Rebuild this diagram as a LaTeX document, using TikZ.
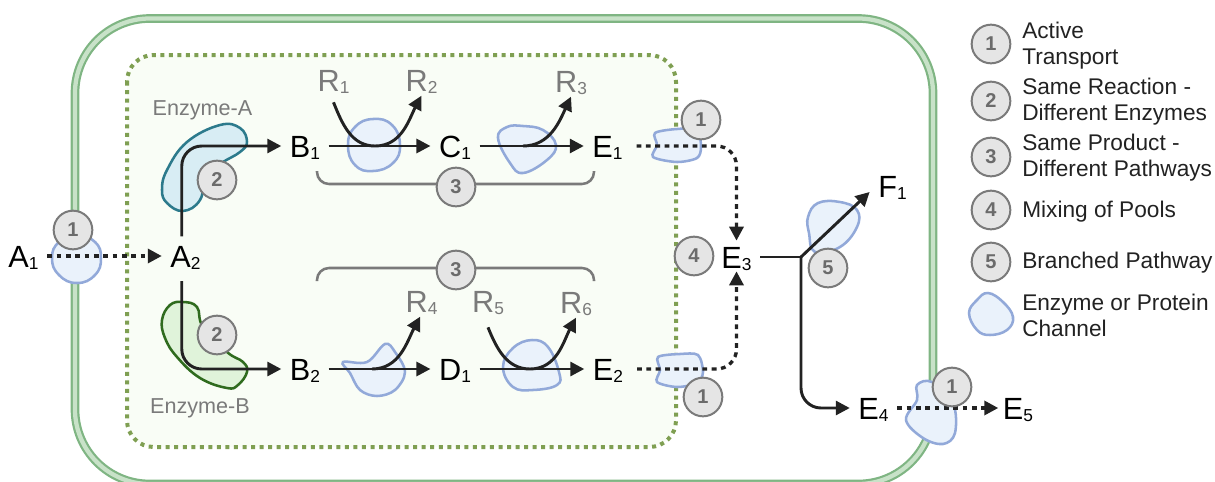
\documentclass[tikz,border=0pt]{standalone}
\usepackage{fontspec}
\setmainfont{Liberation Sans}
\usetikzlibrary{arrows.meta}

\definecolor{wallgreen}{HTML}{7FB583}
\definecolor{walllight}{HTML}{C8E2C8}
\definecolor{dotgreen}{HTML}{7F9F52}
\definecolor{cellfill}{HTML}{F9FDF6}
\definecolor{protfill}{HTML}{EAF2FB}
\definecolor{protline}{HTML}{92A9D9}
\definecolor{enzaline}{HTML}{2C7A8C}
\definecolor{enzafill}{HTML}{D8EDF4}
\definecolor{enzbline}{HTML}{2F6B1E}
\definecolor{enzbfill}{HTML}{E0F3DA}
\definecolor{ink}{HTML}{222222}
\definecolor{fade}{HTML}{7A7A7A}

\newcommand{\subnum}[1]{\raisebox{-2.2pt}{\fontsize{13pt}{13pt}\selectfont #1}}

\tikzset{
    prot/.style={draw=protline, fill=protfill, line width=1.9pt},
    species/.style={font=\fontsize{23pt}{23pt}\selectfont, text=black, inner sep=0pt, outer sep=6.5pt, text height=16.5pt, text depth=0pt},
    cofactor/.style={species, text=fade, outer sep=3.5pt},
    flow/.style={draw=ink, line width=2.2pt, -{Triangle[length=10.5pt,width=10.5pt]}},
    leak/.style={flow, line width=2.5pt, dash pattern=on 3.6pt off 3.4pt},
    brace/.style={draw=fade, line width=1.9pt, rounded corners=9pt},
    badge/.style={circle, draw=fade, fill=black!10, line width=1.5pt, minimum size=29pt, inner sep=0pt, text=black!58, font=\fontsize{15pt}{15pt}\selectfont\bfseries},
    legtext/.style={anchor=west, align=left, inner sep=0pt, font=\fontsize{17pt}{19.5pt}\selectfont, text=ink},
    enztext/.style={inner sep=0pt, text=fade, font=\fontsize{16.2pt}{16.2pt}\selectfont}
}

\begin{document}
\begin{tikzpicture}[x=0.75pt, y=-0.75pt]
    \useasboundingbox (0, 0) rectangle (1215, 482);

    \draw[wallgreen, line width=6.5pt, rounded corners=56pt] (75, 18.5) rectangle (933, 484);
    \draw[walllight, line width=3.2pt, rounded corners=56pt] (75, 18.5) rectangle (933, 484);
    \draw[dotgreen, fill=cellfill, line width=3pt, dash pattern=on 3pt off 3.4pt, rounded corners=20pt] (127, 55) rectangle (676, 447);

    %%%%%%%%%%%%%%%%%%%%%%%%%%%%%%%%%%%%%%%%%%%%%%%%%%%%%%

    \draw[draw=enzaline, fill=enzafill, line width=1.9pt] plot[smooth cycle, tension=0.7] coordinates {(162,190) (167,170) (187,142) (220,125) (240,128) (247,142) (240,152) (223,162) (207,173) (200,200) (183,211) (167,203)};
    \draw[draw=enzbline, fill=enzbfill, line width=1.9pt] plot[smooth cycle, tension=0.7] coordinates {(162,320) (170,305) (183,302) (197,307) (203,327) (227,352) (243,362) (247,372) (238,385) (227,388) (200,378) (177,357) (165,338)};

    \draw[prot] plot[smooth cycle, tension=0.8] coordinates {(348,145) (355,127) (373,119) (392,125) (400,145) (393,163) (373,171) (355,165)};
    \draw[prot] plot[smooth cycle, tension=0.7] coordinates {(498,138) (507,127) (523,126) (543,130) (556,145) (547,160) (523,173) (510,163)};
    \draw[prot] plot[smooth cycle, tension=0.5] coordinates {(655,133) (677,129) (697,130) (701,147) (697,158) (677,162) (653,157) (657,145)};
    \draw[prot] plot[smooth cycle, tension=0.5] coordinates {(658,357) (680,354) (698,355) (703,372) (697,383) (677,387) (657,382) (660,370)};
    \draw[prot] plot[smooth cycle, tension=0.7] coordinates {(503,367) (513,348) (532,340) (548,347) (559,372) (557,385) (533,390) (513,387)};
    \draw[prot] plot[smooth cycle, tension=0.6] coordinates {(343,362) (367,362) (385,344) (395,352) (405,372) (395,390) (377,396) (360,390) (350,373)};
    \draw[prot] plot[smooth cycle, tension=0.8] coordinates {(52,258) (59,242) (77,235) (95,242) (101,258) (95,275) (77,283) (59,275)};
    \draw[prot] plot[smooth cycle, tension=0.7] coordinates {(808,217) (818,203) (840,202) (857,210) (857,227) (840,247) (815,252) (809,233)};
    \draw[prot] plot[smooth cycle, tension=0.6] coordinates {(917,385) (932,382) (953,403) (955,433) (943,444) (923,438) (906,420) (917,400)};
    \draw[prot] plot[smooth cycle, tension=0.7] coordinates {(969,313) (977,300) (988,293) (1003,302) (1013,317) (1007,330) (990,335) (977,330)};

    %%%%%%%%%%%%%%%%%%%%%%%%%%%%%%%%%%%%%%%%%%%%%%%%%%%%%%

    \node[species](a1) at (23.5, 256) {A\subnum{1}};
    \node[species](a2) at (185.5, 256) {A\subnum{2}};
    \node[species](b1) at (305, 146) {B\subnum{1}};
    \node[species](b2) at (305, 369) {B\subnum{2}};
    \node[species](c1) at (455, 146) {C\subnum{1}};
    \node[species](d1) at (455, 369) {D\subnum{1}};
    \node[species](e1) at (607.5, 146) {E\subnum{1}};
    \node[species](e2) at (608, 369) {E\subnum{2}};
    \node[species](e3) at (736.5, 257) {E\subnum{3}};
    \node[species](e4) at (873.5, 408) {E\subnum{4}};
    \node[species](e5) at (1018, 408) {E\subnum{5}};
    \node[species](f1) at (892.5, 186) {F\subnum{1}};

    \node[cofactor](r1) at (333.5, 80) {R\subnum{1}};
    \node[cofactor](r2) at (421.5, 80) {R\subnum{2}};
    \node[cofactor](r3) at (571, 81) {R\subnum{3}};
    \node[cofactor](r4) at (421.5, 301) {R\subnum{4}};
    \node[cofactor](r5) at (488, 301) {R\subnum{5}};
    \node[cofactor](r6) at (576, 302) {R\subnum{6}};

    \node[enztext](enza) at (202.5, 110) {Enzyme-A};
    \node[enztext](enzb) at (200, 408) {Enzyme-B};

    \coordinate (dipa) at (375, 146);
    \coordinate (dipb) at (523, 146);
    \coordinate (dipc) at (372, 369);
    \coordinate (dipd) at (530, 369);
    \coordinate (fork) at (801, 257);
    \coordinate (brtl) at (317, 171);
    \coordinate (brtr) at (594, 171);
    \coordinate (brbl) at (317, 281);
    \coordinate (brbr) at (594, 281);

    %%%%%%%%%%%%%%%%%%%%%%%%%%%%%%%%%%%%%%%%%%%%%%%%%%%%%%

    \draw[leak] (a1.east) -- (a2.west);
    \draw[flow, rounded corners=15pt] ([xshift=-2.8pt]a2.north) |- (b1.west);
    \draw[flow, rounded corners=15pt] ([xshift=-2.8pt, yshift=-4pt]a2.south) |- (b2.west);

    \draw[flow] (b1.east) -- (c1.west);
    \draw[flow] (c1.east) -- (e1.west);
    \draw[flow] (b2.east) -- (d1.west);
    \draw[flow] (d1.east) -- (e2.west);

    \draw[flow] ([yshift=-5pt]r1.south) to[out=-68, in=180] (dipa) to[out=0, in=-118] (r2.south);
    \draw[flow] (dipb) to[out=0, in=-115] (r3.south);
    \draw[flow] (dipc) to[out=0, in=-118] ([xshift=-1pt]r4.south);
    \draw[flow] ([yshift=-8pt]r5.south) to[out=-68, in=180] (dipd) to[out=0, in=-118] (r6.south);

    \draw[leak, rounded corners=15pt] ([xshift=4pt]e1.east) -| ([yshift=-2.5pt]e3.north);
    \draw[leak, rounded corners=15pt] ([xshift=4pt]e2.east) -| ([yshift=4pt]e3.south);

    \draw[ink, line width=2.2pt] (e3.east) -- (fork);
    \draw[flow] (fork) -- ([yshift=-4.5pt]f1.west);
    \draw[flow, rounded corners=15pt] (fork) |- (e4.west);
    \draw[leak] (e4.east) -- ([xshift=3pt]e5.west);

    \draw[brace] (brtl) -- (317, 184) -- (594, 184) -- (brtr);
    \draw[brace] (brbl) -- (317, 268) -- (594, 268) -- (brbr);

    %%%%%%%%%%%%%%%%%%%%%%%%%%%%%%%%%%%%%%%%%%%%%%%%%%%%%%

    \node[badge](ba) at (73, 230) {1};
    \node[badge](bb) at (217, 180) {2};
    \node[badge](bc) at (217, 335) {2};
    \node[badge](bd) at (456, 187) {3};
    \node[badge](be) at (456, 270) {3};
    \node[badge](bf) at (701, 120) {1};
    \node[badge](bg) at (703, 397) {1};
    \node[badge](bh) at (694, 256) {4};
    \node[badge](bi) at (828, 268) {5};
    \node[badge](bj) at (952, 387) {1};

    %%%%%%%%%%%%%%%%%%%%%%%%%%%%%%%%%%%%%%%%%%%%%%%%%%%%%%

    \node[badge](lega) at (991, 44) {1};
    \node[badge](legb) at (991, 101) {2};
    \node[badge](legc) at (991, 157) {3};
    \node[badge](legd) at (991, 210) {4};
    \node[badge](lege) at (991, 262) {5};

    \node[legtext](txta) at (1022, 46) {Active\\Transport};
    \node[legtext](txtb) at (1022, 102) {Same Reaction -\\Different Enzymes};
    \node[legtext](txtc) at (1022, 158) {Same Product -\\Different Pathways};
    \node[legtext](txtd) at (1022, 212) {Mixing of Pools};
    \node[legtext](txte) at (1022, 263) {Branched Pathway};
    \node[legtext](txtf) at (1022, 315) {Enzyme or Protein\\Channel};
\end{tikzpicture}
\end{document}
